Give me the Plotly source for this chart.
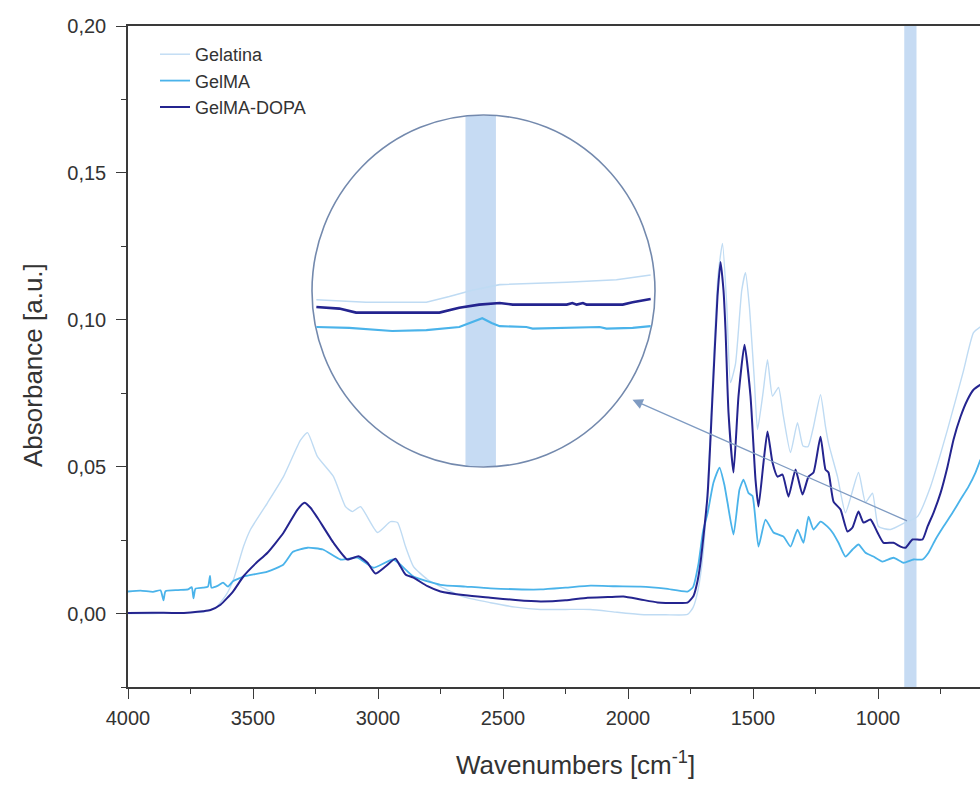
import plotly.graph_objects as go

# ---------------- data ----------------
dopa_wn = [4000, 3900, 3800, 3750, 3700, 3670, 3630, 3580, 3538, 3490, 3442, 3378, 3322, 3294, 3270,
           3242, 3178, 3122, 3078, 3042, 3010, 2970, 2930, 2910, 2890, 2858, 2802, 2750, 2650, 2550,
           2450, 2350, 2250, 2162, 2080, 2018, 1950, 1882, 1800, 1762, 1738, 1722, 1710, 1682, 1662,
           1642, 1630, 1618, 1610, 1598, 1578, 1558, 1534, 1510, 1490, 1478, 1458, 1442, 1422, 1402,
           1382, 1358, 1330, 1302, 1278, 1258, 1230, 1210, 1198, 1178, 1150, 1122, 1102, 1078, 1058,
           1030, 1002, 978, 938, 910, 890, 862, 822, 802, 778, 750, 722, 698, 670, 642, 618, 590]
dopa_abs = [0.0002, 0.0003, 0.0002, 0.0004, 0.0008, 0.0012, 0.003, 0.0075, 0.0127, 0.017, 0.0207,
            0.0275, 0.0354, 0.0377, 0.036, 0.0326, 0.0241, 0.0184, 0.0195, 0.0173, 0.0136, 0.016,
            0.0187, 0.016, 0.0133, 0.0122, 0.0093, 0.0075, 0.0062, 0.0054, 0.0046, 0.0041, 0.0045,
            0.0054, 0.0056, 0.0058, 0.0048, 0.0038, 0.0036, 0.0037, 0.006, 0.011, 0.0173, 0.040,
            0.074, 0.108, 0.1197, 0.110, 0.0966, 0.0684, 0.048, 0.074, 0.0915, 0.074, 0.0456, 0.0364,
            0.0514, 0.062, 0.0514, 0.0466, 0.0473, 0.0398, 0.049, 0.0405, 0.0466, 0.048, 0.0602,
            0.049, 0.048, 0.0381, 0.0354, 0.0279, 0.0293, 0.0347, 0.031, 0.032, 0.0276, 0.0241,
            0.0241, 0.0228, 0.0224, 0.0252, 0.0252, 0.0296, 0.0343, 0.041, 0.05, 0.0592, 0.067,
            0.0728, 0.0762, 0.0779]

gel_wn = [4000, 3900, 3800, 3700, 3650, 3610, 3578, 3538, 3510, 3442, 3378, 3310, 3282, 3242, 3178,
          3130, 3102, 3070, 3002, 2950, 2922, 2890, 2858, 2802, 2750, 2650, 2550, 2450, 2350, 2250,
          2150, 2050, 1950, 1850, 1762, 1740, 1720, 1700, 1680, 1660, 1640, 1622, 1605, 1590, 1570,
          1545, 1530, 1515, 1495, 1482, 1460, 1442, 1422, 1398, 1380, 1350, 1322, 1300, 1280, 1258,
          1230, 1210, 1198, 1162, 1130, 1078, 1050, 1022, 998, 950, 890, 842, 790, 722, 660, 618, 590]
gel_abs = [0.0, 0.0, 0.0003, 0.0005, 0.002, 0.006, 0.0116, 0.0228, 0.0286, 0.0377, 0.0466, 0.059,
           0.0616, 0.0534, 0.0466, 0.0364, 0.0347, 0.0364, 0.0276, 0.0313, 0.031, 0.0228, 0.016,
           0.0116, 0.0092, 0.0055, 0.0037, 0.0022, 0.0014, 0.0014, 0.0014, 0.0005, -0.0003, -0.0004,
           -0.0003, 0.002, 0.008, 0.02, 0.045, 0.082, 0.115, 0.126, 0.105, 0.0786, 0.085, 0.11,
           0.116, 0.105, 0.08, 0.0626, 0.075, 0.0864, 0.074, 0.077, 0.068, 0.0548, 0.065, 0.057,
           0.0568, 0.0636, 0.0745, 0.0636, 0.058, 0.0466, 0.0343, 0.048, 0.0378, 0.041, 0.0296,
           0.0286, 0.031, 0.033, 0.0432, 0.0626, 0.082, 0.0956, 0.0976]

gelma_wn = [4000, 3950, 3900, 3870, 3858, 3850, 3800, 3760, 3745, 3738, 3730, 3700, 3680, 3672,
            3666, 3640, 3620, 3600, 3580, 3560, 3538, 3442, 3378, 3340, 3282, 3220, 3150, 3082,
            3018, 2938, 2858, 2750, 2650, 2550, 2350, 2250, 2150, 2050, 1950, 1850, 1762, 1740,
            1718, 1700, 1682, 1658, 1634, 1615, 1602, 1578, 1554, 1538, 1518, 1502, 1478, 1450,
            1418, 1378, 1350, 1322, 1298, 1278, 1258, 1230, 1202, 1182, 1158, 1130, 1102, 1078,
            1050, 1018, 982, 938, 898, 858, 822, 798, 770, 738, 702, 670, 638, 610, 590]
gelma_abs = [0.0075, 0.0078, 0.0074, 0.0079, 0.0045, 0.0076, 0.0080, 0.0082, 0.0090, 0.0052,
             0.0085, 0.0088, 0.0092, 0.0128, 0.0088, 0.0095, 0.0105, 0.0092, 0.0110, 0.0118,
             0.0126, 0.0143, 0.0167, 0.021, 0.0224, 0.0218, 0.0184, 0.019, 0.0156, 0.0184, 0.0126,
             0.0098, 0.0092, 0.0086, 0.0082, 0.0088, 0.0095, 0.0093, 0.0092, 0.0085, 0.0075, 0.009,
             0.017, 0.028, 0.034, 0.0446, 0.0497, 0.044, 0.0378, 0.0269, 0.0422, 0.0456, 0.041,
             0.040, 0.0228, 0.032, 0.0276, 0.0262, 0.0228, 0.0286, 0.0241, 0.033, 0.0286, 0.0313,
             0.0296, 0.0276, 0.0241, 0.0194, 0.0218, 0.0235, 0.0207, 0.0194, 0.0177, 0.019, 0.0173,
             0.0184, 0.0184, 0.0207, 0.0252, 0.0296, 0.0343, 0.0388, 0.0432, 0.048, 0.0524]

# magnified view (inset) values
inset_gel_wn = [1135, 1055, 958, 921, 884, 840, 732, 652, 597]
inset_gel_abs = [0.0209, 0.0206, 0.0206, 0.0213, 0.0221, 0.0228, 0.0231, 0.0234, 0.0240]
inset_dopa_wn = [1135, 1098, 1071, 937, 905, 873, 840, 819, 732, 723, 716, 706, 700, 642, 626, 597]
inset_dopa_abs = [0.0200, 0.0198, 0.0193, 0.0193, 0.0199, 0.0203, 0.0205, 0.0203, 0.0203, 0.0205,
                  0.0203, 0.0205, 0.0203, 0.0203, 0.0206, 0.0210]
inset_gelma_wn = [1135, 1082, 1013, 958, 905, 889, 868, 853, 840, 797, 787, 679, 668, 626, 597]
inset_gelma_abs = [0.0175, 0.0174, 0.0170, 0.0171, 0.0175, 0.0180, 0.0186, 0.0180, 0.0176,
                   0.0175, 0.0173, 0.0175, 0.0173, 0.0174, 0.0176]

band = [895, 846]            # highlighted wavenumber band
arrow_tail = [878, 0.0313]
arrow_head = [1982, 0.0728]

names = ["Gelatina", "GelMA", "GelMA-DOPA"]
colors = ["#bfdbf3", "#4ab3ea", "#24248f"]

# ---------------- figure ----------------
W, H = 980, 787
L, R, T, B = 128, 0, 26, 100
pw, ph = W - L - R, H - T - B
def px(xp):
    return (xp - L) / pw
def py(yp):
    return (H - B - yp) / ph

INSET_X0, INSET_X1, INSET_Y0, INSET_Y1 = 312, 655, 467, 115
INSET_RANGE = [1142, 590]

fig = go.Figure()
series = [(gel_wn, gel_abs, 1.4), (gelma_wn, gelma_abs, 1.8), (dopa_wn, dopa_abs, 2.0)]
for (x, y, w), n, c in zip(series, names, colors):
    fig.add_trace(go.Scatter(x=x, y=y, mode="lines", name=n,
                             line=dict(color=c, width=w, shape="spline", smoothing=0.5)))

inset = [(inset_gel_wn, inset_gel_abs, 1.6), (inset_gelma_wn, inset_gelma_abs, 2.2),
         (inset_dopa_wn, inset_dopa_abs, 2.6)]
for (x, y, w), n, c in zip(inset, names, colors):
    fig.add_trace(go.Scatter(x=x, y=y, mode="lines", name=n, showlegend=False,
                             xaxis="x2", yaxis="y2", line=dict(color=c, width=w)))

font = "Arial, Liberation Sans, sans-serif"
axis_common = dict(showgrid=False, zeroline=False, showline=True, linecolor="#3a3a3a",
                   linewidth=1.5, ticks="outside", ticklen=10, tickwidth=1.3, tickcolor="#3a3a3a",
                   tickfont=dict(family=font, size=20, color="#333333"))
fig.update_layout(
    width=W, height=H, margin=dict(l=L, r=R, t=T, b=B),
    paper_bgcolor="white", plot_bgcolor="rgba(0,0,0,0)", separators=",.",
    xaxis=dict(range=[4000, 4000 - pw * 4], dtick=500, tick0=0, mirror=True,
               ticklabelstandoff=2,
               minor=dict(dtick=250, ticklen=5, ticks="outside", tickcolor="#3a3a3a"),
               **axis_common),
    yaxis=dict(range=[-0.025, 0.2], dtick=0.05, tick0=0, tickformat=".2f",
               ticklabelstandoff=6,
               minor=dict(dtick=0.025, ticklen=5, ticks="outside", tickcolor="#3a3a3a"),
               **axis_common),
    xaxis2=dict(domain=[px(INSET_X0), px(INSET_X1)], range=INSET_RANGE, anchor="y2",
                visible=False),
    yaxis2=dict(domain=[py(INSET_Y0), py(INSET_Y1)], range=[0, 0.044], anchor="x2",
                visible=False),
    legend=dict(x=px(155), y=py(36), xanchor="left", yanchor="top", bgcolor="rgba(0,0,0,0)",
                font=dict(family=font, size=18, color="#333333"), tracegroupgap=0),
    showlegend=True,
)

# highlighted band in main plot
fig.add_shape(type="rect", xref="x", yref="y domain", x0=band[0], x1=band[1], y0=0, y1=1,
              fillcolor="#c6dbf3", line=dict(width=0), layer="below")

# highlighted band inside the magnifier (band position mapped through inset axis range)
def inset_px(wn):
    return INSET_X0 + (INSET_RANGE[0] - wn) / (INSET_RANGE[0] - INSET_RANGE[1]) * (INSET_X1 - INSET_X0)
fig.add_shape(type="rect", xref="paper", yref="paper",
              x0=px(inset_px(band[0])), x1=px(inset_px(band[1])),
              y0=py(INSET_Y0 - 1), y1=py(INSET_Y1 + 1),
              fillcolor="#c6dbf3", line=dict(width=0), layer="below")
# magnifier circle
fig.add_shape(type="circle", xref="paper", yref="paper",
              x0=px(INSET_X0), x1=px(INSET_X1), y0=py(INSET_Y0), y1=py(INSET_Y1),
              line=dict(color="#7389ad", width=1.6), layer="below")

# arrow
fig.add_annotation(x=arrow_head[0], y=arrow_head[1], ax=arrow_tail[0], ay=arrow_tail[1],
                   xref="x", yref="y", axref="x", ayref="y", text="", showarrow=True,
                   arrowhead=2, arrowsize=1.6, arrowwidth=1.3, arrowcolor="#7f9bc2")

# axis titles
fig.add_annotation(x=px(575), y=py(782), xref="paper", yref="paper", showarrow=False,
                   text="Wavenumbers [cm<sup>-1</sup>]",
                   font=dict(family=font, size=26, color="#333333"))
fig.add_annotation(x=px(16), y=py(365), xref="paper", yref="paper", showarrow=False,
                   text="Absorbance [a.u.]", textangle=-90,
                   font=dict(family=font, size=26, color="#333333"))

fig.write_html("out.html")
